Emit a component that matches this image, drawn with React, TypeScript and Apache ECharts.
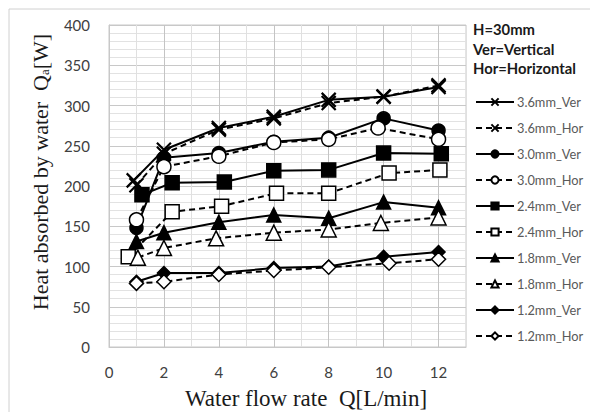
import React, { useEffect, useRef } from 'react';
import * as echarts from 'echarts';

// ---- data ----
const seriesNames = [
  '3.6mm_Ver', '3.6mm_Hor', '3.0mm_Ver', '3.0mm_Hor', '2.4mm_Ver',
  '2.4mm_Hor', '1.8mm_Ver', '1.8mm_Hor', '1.2mm_Ver', '1.2mm_Hor',
];

const x36Ver = [0.9, 2, 4, 6, 8, 10, 12];
const y36Ver = [207, 245, 272, 286, 307, 311, 323];
const x36Hor = [1, 2, 4, 6, 8, 10, 12];
const y36Hor = [201, 240, 270, 284, 303, 311, 325];

const x30Ver = [1, 2, 4, 6, 8, 10, 12];
const y30Ver = [148, 235, 241, 255, 260, 284, 269];
const x30Hor = [1, 2, 4, 6, 8, 9.8, 12];
const y30Hor = [158, 224, 237, 254, 258, 272, 258];

const x24Ver = [1.2, 2.3, 4.2, 6, 8, 10, 12.1];
const y24Ver = [189, 204, 205, 219, 220, 241, 240];
const x24Hor = [0.7, 2.3, 4.1, 6.1, 8, 10.2, 12.05];
const y24Hor = [112, 168, 175, 191, 191, 216, 220];

const x18Ver = [1, 2, 4, 6, 8, 10, 12];
const y18Ver = [131, 142, 155, 164, 160, 180, 173];
const x18Hor = [1.05, 2, 3.9, 6, 8, 9.9, 12];
const y18Hor = [111, 123, 135, 142, 146, 154, 161];

const x12Ver = [1, 2, 4, 6, 8, 10, 12];
const y12Ver = [81, 92, 92, 98, 100, 112, 118];
const x12Hor = [1, 2, 4, 6, 8, 10.2, 12];
const y12Hor = [79, 81, 90, 95, 99, 104, 109];

const xTickLabels = ['0', '2', '4', '6', '8', '10', '12'];
const yTickLabels = ['0', '50', '100', '150', '200', '250', '300', '350', '400'];

const headerLines = ['H=30mm', 'Ver=Vertical', 'Hor=Horizontal'];

const pair = (xs: number[], ys: number[]) => xs.map((x, i) => [x, ys[i]]);

const seriesData = [
  pair(x36Ver, y36Ver), pair(x36Hor, y36Hor),
  pair(x30Ver, y30Ver), pair(x30Hor, y30Hor),
  pair(x24Ver, y24Ver), pair(x24Hor, y24Hor),
  pair(x18Ver, y18Ver), pair(x18Hor, y18Hor),
  pair(x12Ver, y12Ver), pair(x12Hor, y12Hor),
];

const X_PATH = 'path://M0 0L10 10M10 0L0 10';
const symbols = [X_PATH, X_PATH, 'circle', 'circle', 'rect', 'rect', 'triangle', 'triangle', 'diamond', 'diamond'];
const symbolSizes = [14, 14, 13, 14, 14, 14, 14, 15, 13, 14];

const SANS = 'Lato, "Open Sans", sans-serif';
const SERIF = '"Liberation Serif", "Times New Roman", serif';

export default function App() {
  const ref = useRef<HTMLDivElement>(null);

  useEffect(() => {
    if (!ref.current) return;
    const chart = echarts.init(ref.current, undefined, { renderer: 'svg' });

    const series = seriesNames.map((name, i) => {
      const isHor = i % 2 === 1;
      const isX = i < 2;
      const filled = !isHor;
      return {
        name,
        type: 'line',
        data: seriesData[i],
        symbol: symbols[i],
        symbolSize: symbolSizes[i],
        showAllSymbol: true,
        lineStyle: { color: '#000', width: 2, type: isHor ? [6, 4] : 'solid' },
        itemStyle: {
          color: isX ? 'none' : filled ? '#000' : '#fff',
          borderColor: '#000',
          borderWidth: isX ? 2.2 : 1.5,
        },
        emphasis: { disabled: true },
        z: 2 + i,
      };
    });

    chart.setOption({
      animation: false,
      backgroundColor: '#fff',
      grid: {
        left: 109,
        top: 25,
        right: 124,
        bottom: 65,
        show: true,
        borderColor: '#c8c8c8',
        borderWidth: 1,
        backgroundColor: 'transparent',
      },
      xAxis: {
        type: 'value',
        min: 0,
        max: 13,
        interval: 1,
        axisLine: { show: true, lineStyle: { color: '#c8c8c8' } },
        axisTick: { show: false },
        axisLabel: {
          margin: 17,
          fontSize: 15,
          fontFamily: SANS,
          color: '#404040',
          formatter: (v: number) => (xTickLabels.includes(String(v)) ? String(v) : ''),
        },
        splitLine: { show: true, lineStyle: { color: ['#c4c4c4', '#e0e0e0'], width: 1 } },
      },
      yAxis: {
        type: 'value',
        min: 0,
        max: 400,
        interval: 10,
        axisLine: { show: true, lineStyle: { color: '#c8c8c8' } },
        axisTick: { show: false },
        axisLabel: {
          margin: 19,
          fontSize: 15,
          fontFamily: SANS,
          color: '#404040',
          formatter: (v: number) => (yTickLabels.includes(String(v)) ? String(v) : ''),
        },
        splitLine: {
          show: true,
          lineStyle: { color: ['#c8c8c8', '#e2e2e2', '#e2e2e2', '#e2e2e2', '#e2e2e2'], width: 1 },
        },
      },
      legend: {
        orient: 'vertical',
        left: 470,
        top: 90,
        itemWidth: 38,
        itemHeight: 9,
        itemGap: 12,
        data: seriesNames,
        textStyle: {
          fontSize: 12.8,
          lineHeight: 14,
          color: '#595959',
          fontFamily: SANS,
          padding: [0, 0, 0, -2],
        },
      },
      graphic: [
        {
          type: 'rect',
          shape: { x: 9, y: 9, width: 620, height: 440 },
          style: { fill: 'none', stroke: '#d0d0d0', lineWidth: 1 },
          silent: true,
        },
        ...headerLines.map((t, i) => ({
          type: 'text',
          x: 473,
          y: 29 + i * 19.5,
          style: {
            text: t,
            fontSize: 14.8,
            fontWeight: 'bold',
            fontFamily: SANS,
            fill: '#1a1a1a',
            verticalAlign: 'middle',
          },
        })),
        {
          type: 'text',
          x: 40,
          y: 172,
          rotation: Math.PI / 2,
          style: {
            text: '{m|Heat absorbed by water  Q}{s|a}{m|[W]}',
            align: 'center',
            verticalAlign: 'middle',
            rich: {
              m: { fontSize: 22, fontFamily: SERIF, fill: '#1a1a1a', color: '#1a1a1a' },
              s: { fontSize: 13, fontFamily: SERIF, fill: '#1a1a1a', color: '#1a1a1a', padding: [9, 0, 0, 0] },
            },
          },
        },
        {
          type: 'text',
          x: 306,
          y: 398,
          style: {
            text: 'Water flow rate  Q[L/min]',
            fontSize: 23,
            fontFamily: SERIF,
            fill: '#1a1a1a',
            align: 'center',
            verticalAlign: 'middle',
          },
        },
      ],
      series,
    });

    return () => chart.dispose();
  }, []);

  return (
    <div
      ref={ref}
      style={{ position: 'fixed', left: 0, top: 0, width: 590, height: 412, background: '#fff' }}
    />
  );
}
